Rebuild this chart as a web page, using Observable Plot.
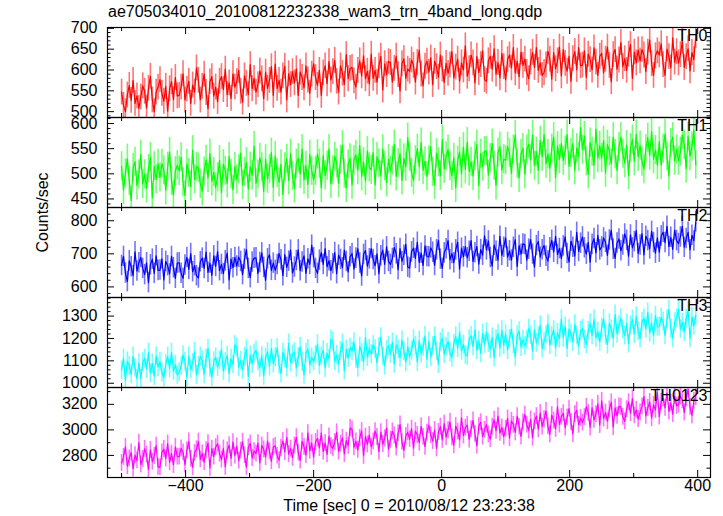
<!DOCTYPE html>
<html><head><meta charset="utf-8">
<script src="https://cdn.jsdelivr.net/npm/d3@7"></script>
<script src="https://cdn.jsdelivr.net/npm/@observablehq/plot@0.6"></script>
<style>
body{margin:0;background:#fff;}
#chart{position:relative;width:723px;height:516px;font-family:"Liberation Sans",Arial,sans-serif;overflow:hidden;}
#title{position:absolute;left:108px;top:3px;font-size:16px;line-height:18px;white-space:nowrap;}
</style></head><body><div id="chart"><div id="title">ae705034010_20100812232338_wam3_trn_4band_long.qdp</div></div>
<script>
// time bins (sec), 3 s step starting at -500
const tStart = -500, tStep = 3;
const th0 = [
547,515,500,540,563,527,575,520,538,508,
535,562,549,509,556,585,528,500,547,559,
577,544,525,561,501,555,572,529,582,538,
539,559,591,528,554,573,520,564,547,605,
575,528,561,590,546,507,572,584,537,559,
524,573,584,553,602,541,569,532,591,559,
572,599,549,523,586,568,541,613,555,580,
547,565,598,579,531,595,556,575,608,539,
614,556,575,547,586,609,528,591,565,596,
569,603,539,595,582,557,610,576,544,590,
615,582,563,599,539,593,610,567,620,576,
596,623,573,547,610,592,565,637,579,604,
606,574,559,599,622,586,634,579,597,567,
638,580,599,571,610,633,552,615,589,620,
618,571,604,633,589,550,615,627,580,602,
597,624,611,571,618,647,590,562,609,621,
595,629,565,621,608,583,636,602,570,616,
592,612,644,581,607,626,573,617,600,658,
585,603,636,617,569,633,594,613,646,577,
573,622,633,602,651,590,618,581,640,608,
576,625,636,605,654,593,621,584,643,611,
626,594,579,619,642,606,654,599,617,587,
594,612,645,626,578,642,603,622,655,586,
649,616,597,633,573,627,644,601,654,610,
612,646,582,638,625,600,653,619,587,633,
640,593,626,655,611,572,637,649,602,624,
666,608,627,599,638,661,580,643,617,648,
622,649,636,596,643,672,615,587,634,646,
636,663,613,587,650,632,605,677,619,644,
617,637,669,606,632,651,598,642,625,683];
const th1 = [
515,468,501,530,486,447,512,524,477,499,
538,480,499,471,510,533,452,515,489,520,
493,520,507,467,514,543,486,458,505,517,
506,533,483,457,520,502,475,547,489,514,
512,480,465,505,528,492,540,485,503,473,
493,527,463,519,506,481,534,500,468,514,
489,509,541,478,504,523,470,514,497,555,
481,499,532,513,465,529,490,509,542,473,
535,502,483,519,459,513,530,487,540,496,
471,520,531,500,549,488,516,479,538,506,
488,506,539,520,472,536,497,516,549,480,
507,534,521,481,528,557,500,472,519,531,
478,527,538,507,556,495,523,486,545,513,
508,542,478,534,521,496,549,515,483,529,
506,526,558,495,521,540,487,531,514,572,
534,502,487,527,550,514,562,507,525,495,
527,554,504,478,541,523,496,568,510,535,
548,515,496,532,472,526,543,500,553,509,
563,505,524,496,535,558,477,540,514,545,
545,498,531,560,516,477,542,554,507,529,
527,554,541,501,548,577,520,492,539,551,
499,548,559,528,577,516,544,507,566,534,
578,520,539,511,550,573,492,555,529,560,
526,546,578,515,541,560,507,551,534,592,
548,575,525,499,562,544,517,589,531,556,
532,566,502,558,545,520,573,539,507,553,
573,540,521,557,497,551,568,525,578,534,
556,524,509,549,572,536,584,529,547,517,
564,517,550,579,535,496,561,573,526,548,
526,544,577,558,510,574,535,554,587,518];
const th2 = [
665,692,642,616,679,661,634,706,648,673,
689,656,637,673,613,667,684,641,694,650,
651,685,621,677,664,639,692,658,626,672,
673,641,626,666,689,653,701,646,664,634,
627,676,687,656,705,644,672,635,694,662,
707,649,668,640,679,702,621,684,658,689,
663,690,677,637,684,713,656,628,675,687,
688,641,674,703,659,620,685,697,650,672,
650,668,701,682,634,698,659,678,711,642,
660,680,712,649,675,694,641,685,668,726,
688,656,641,681,704,668,716,661,679,649,
670,704,640,696,683,658,711,677,645,691,
701,654,687,716,672,633,698,710,663,685,
716,683,664,700,640,694,711,668,721,677,
668,686,719,700,652,716,677,696,729,660,
657,706,717,686,735,674,702,665,724,692,
691,718,705,665,712,741,684,656,703,715,
740,682,701,673,712,735,654,717,691,722,
688,708,740,677,703,722,669,713,696,754,
712,739,689,663,726,708,681,753,695,720,
748,690,709,681,720,743,662,725,699,730,
728,681,714,743,699,660,725,737,690,712,
725,693,678,718,741,705,753,698,716,686,
724,751,701,675,738,720,693,765,707,732,
751,718,699,735,675,729,746,703,756,712,
721,748,735,695,742,771,714,686,733,745,
709,727,760,741,693,757,718,737,770,701,
727,761,697,753,740,715,768,734,702,748,
705,754,765,734,783,722,750,713,772,740,
731,751,783,720,746,765,712,756,739,797];
const th3 = [
1058,1110,1013,1098,1078,1040,1120,1069,1021,1090,
1020,1094,1110,1063,1137,1045,1088,1032,1121,1072,
1096,1048,1025,1086,1120,1066,1138,1055,1083,1037,
1049,1076,1126,1097,1025,1121,1062,1091,1141,1037,
1079,1120,1101,1040,1111,1155,1069,1027,1098,1116,
1072,1102,1150,1055,1095,1123,1043,1110,1084,1171,
1160,1072,1101,1059,1118,1152,1030,1125,1086,1133,
1147,1097,1069,1123,1033,1114,1140,1075,1155,1088,
1117,1157,1082,1043,1138,1111,1070,1178,1091,1129,
1139,1068,1118,1162,1095,1037,1135,1153,1082,1115,
1097,1127,1175,1080,1120,1148,1068,1135,1109,1196,
1186,1098,1127,1085,1144,1178,1056,1151,1112,1159,
1143,1183,1108,1069,1164,1137,1096,1204,1117,1155,
1130,1171,1152,1091,1162,1206,1120,1078,1149,1167,
1131,1183,1086,1171,1151,1113,1193,1142,1094,1163,
1119,1146,1196,1167,1095,1191,1132,1161,1211,1107,
1187,1116,1166,1210,1143,1085,1183,1201,1130,1163,
1186,1138,1115,1176,1210,1156,1228,1145,1173,1127,
1122,1196,1212,1165,1239,1147,1190,1134,1223,1174,
1229,1179,1151,1205,1115,1196,1222,1157,1237,1170,
1219,1148,1198,1242,1175,1117,1215,1233,1162,1195,
1167,1194,1244,1215,1143,1239,1180,1209,1259,1155,
1187,1217,1265,1170,1210,1238,1158,1225,1199,1286,
1202,1254,1157,1242,1222,1184,1264,1213,1165,1234,
1244,1196,1173,1234,1268,1214,1286,1203,1231,1185,
1247,1287,1212,1173,1268,1241,1200,1308,1221,1259,
1291,1241,1213,1267,1177,1258,1284,1219,1299,1232,
1200,1274,1290,1243,1317,1225,1268,1212,1301,1252,
1253,1294,1275,1214,1285,1329,1243,1201,1272,1290,
1330,1242,1271,1229,1288,1322,1200,1295,1256,1303];
const th0123 = [
2741,2789,2866,2715,2777,2823,2696,2801,2761,2900,
2729,2772,2852,2806,2691,2844,2751,2796,2876,2710,
2706,2823,2850,2775,2893,2746,2814,2725,2866,2790,
2790,2855,2824,2728,2840,2910,2773,2706,2819,2848,
2908,2769,2815,2748,2841,2896,2702,2853,2791,2865,
2892,2813,2767,2854,2710,2839,2880,2777,2904,2798,
2871,2758,2838,2907,2802,2708,2864,2893,2780,2833,
2814,2896,2742,2877,2846,2786,2913,2831,2754,2865,
2875,2798,2762,2858,2913,2827,2942,2810,2853,2781,
2877,2942,2822,2759,2910,2867,2802,2975,2836,2896,
2789,2906,2933,2858,2976,2829,2897,2808,2949,2873,
2856,2904,2981,2830,2892,2938,2811,2916,2876,3015,
3003,2864,2910,2843,2936,2991,2797,2948,2886,2960,
2867,2910,2990,2944,2829,2982,2889,2934,3014,2848,
2923,2988,2957,2861,2973,3043,2906,2839,2952,2981,
2928,3010,2856,2991,2960,2900,3027,2945,2868,2979,
3037,2958,2912,2999,2855,2984,3025,2922,3049,2943,
2997,3062,2942,2879,3030,2987,2922,3095,2956,3016,
3038,2925,3005,3074,2969,2875,3031,3060,2947,3000,
3041,2964,2928,3024,3079,2993,3108,2976,3019,2947,
3008,3090,2936,3071,3040,2980,3107,3025,2948,3059,
3120,3041,2995,3082,2938,3067,3108,3005,3132,3026,
3083,3148,3028,2965,3116,3073,3008,3181,3042,3102,
3131,3018,3098,3167,3062,2968,3124,3153,3040,3093,
3057,3100,3180,3134,3019,3172,3079,3124,3204,3038,
3228,3089,3135,3068,3161,3216,3022,3173,3111,3185,
3179,3102,3066,3162,3217,3131,3246,3114,3157,3085,
3136,3184,3261,3110,3172,3218,3091,3196,3156,3295,
3104,3221,3248,3173,3291,3144,3212,3123,3264,3188,
3198,3263,3232,3136,3248,3318,3181,3114,3227,3256];

const names = ["TH0", "TH1", "TH2", "TH3", "TH0123"];
const colors = ["#ff0000", "#00ff00", "#0000ff", "#00ffff", "#ff00ff"];
const errors = [31, 29, 31, 42, 66];
const yDomains = [[486, 702], [433, 612], [568, 840], [981, 1383], [2627, 3332]];
const yMajor = [[500, 550, 600, 650, 700], [450, 500, 550, 600], [600, 700, 800], [1000, 1100, 1200, 1300], [2800, 3000, 3200]];
const yMinorStep = [10, 10, 20, 20, 100];
const xDomain = [-522, 420];
const xMajor = [-400, -200, 0, 200, 400];
const xMinor = [-500, -300, -100, 100, 300];
const xLabel = "Time [sec] 0 = 2010/08/12 23:23:38";
const yLabel = "Counts/sec";

const series = [th0, th1, th2, th3, th0123];
const panelTops = [27, 117, 207, 297, 387];
const H = 90, W = 723, ML = 107, MR = 13, FW = W - ML - MR;
const fmt = d => d < 0 ? "\u2212" + Math.abs(d) : String(d);
const chart = document.getElementById("chart");

series.forEach((vals, p) => {
  const data = vals.map((v, i) => ({t: tStart + i * tStep, v}));
  const e = errors[p];
  const [y0, y1] = yDomains[p];
  const minors = d3.range(Math.ceil(y0 / yMinorStep[p]) * yMinorStep[p], y1, yMinorStep[p]).filter(d => !yMajor[p].includes(d));
  const last = p === 4;
  const mt = 12, mb = last ? 45 : 12;
  const marks = [
    Plot.ruleX(data, {x: "t", y1: d => d.v - e, y2: d => d.v + e, stroke: colors[p], strokeOpacity: 0.55, strokeWidth: 1.6, clip: true}),
    Plot.line(data, {x: "t", y: "v", stroke: colors[p], strokeWidth: 1.2, clip: true}),
    Plot.ruleX(xMajor, {x: d => d, insetTop: H - 7, stroke: "#000"}),
    Plot.ruleX(xMajor, {x: d => d, insetBottom: H - 7, stroke: "#000"}),
    Plot.ruleX(xMinor, {x: d => d, insetTop: H - 4, stroke: "#000"}),
    Plot.ruleX(xMinor, {x: d => d, insetBottom: H - 4, stroke: "#000"}),
    Plot.ruleY(yMajor[p], {y: d => d, insetRight: FW - 7, stroke: "#000"}),
    Plot.ruleY(yMajor[p], {y: d => d, insetLeft: FW - 7, stroke: "#000"}),
    Plot.ruleY(minors, {y: d => d, insetRight: FW - 3.5, stroke: "#000"}),
    Plot.ruleY(minors, {y: d => d, insetLeft: FW - 3.5, stroke: "#000"}),
    Plot.frame({stroke: "#000", strokeWidth: 1.2}),
    Plot.text(yMajor[p], {y: d => d, text: d => String(d), frameAnchor: "left", textAnchor: "end", dx: -10, fontSize: 16, fill: "#000"}),
    Plot.text([names[p]], {text: d => d, frameAnchor: "top-right", textAnchor: "end", lineAnchor: "top", dx: -3, dy: 2, fontSize: 16, fill: "#000"})
  ];
  if (last) {
    marks.push(Plot.text(xMajor, {x: d => d, text: fmt, frameAnchor: "bottom", lineAnchor: "top", dy: 2, fontSize: 16, fill: "#000"}));
    marks.push(Plot.text([xLabel], {text: d => d, frameAnchor: "bottom", lineAnchor: "top", dy: 22, fontSize: 16, fill: "#000"}));
  }
  if (p === 2) {
    marks.push(Plot.text([yLabel], {text: d => d, frameAnchor: "left", rotate: -90, dx: -65, fontSize: 16, fill: "#000"}));
  }
  const svg = Plot.plot({
    width: W, height: H + mt + mb,
    marginLeft: ML, marginRight: MR, marginTop: mt, marginBottom: mb,
    style: {background: "transparent", overflow: "visible", fontFamily: "'Liberation Sans', Arial, sans-serif", fontSize: "16px"},
    x: {domain: xDomain, axis: null},
    y: {domain: yDomains[p], axis: null},
    marks
  });
  svg.style.position = "absolute";
  svg.style.left = "0px";
  svg.style.top = (panelTops[p] - mt) + "px";
  chart.appendChild(svg);
});
</script>
</body></html>
